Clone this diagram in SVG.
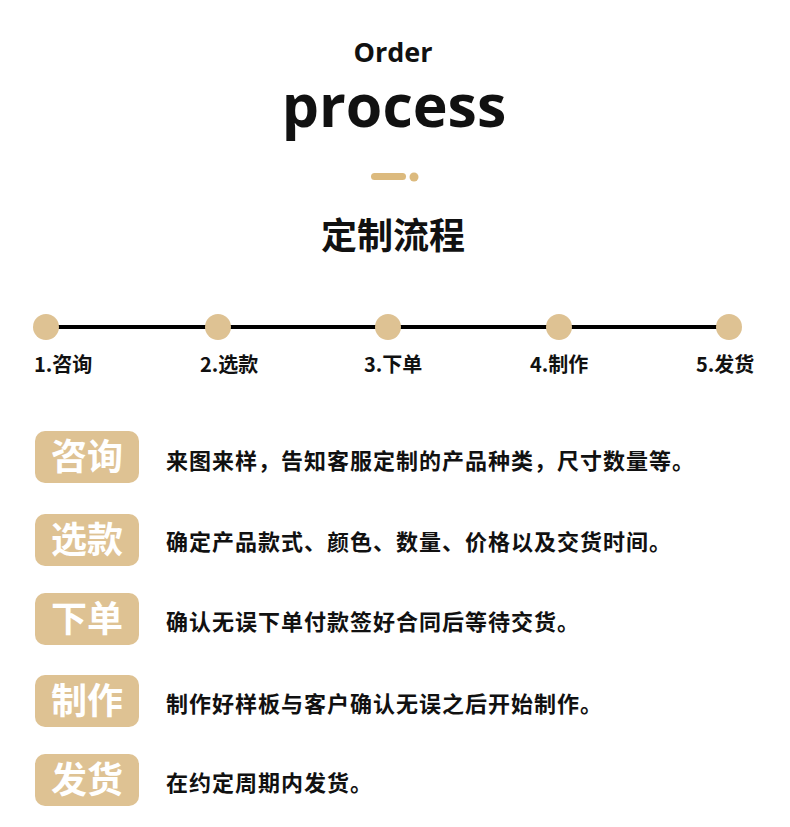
<svg xmlns="http://www.w3.org/2000/svg" width="790" height="827" viewBox="0 0 790 827">
<style>
.en{font-family:"Open Sans","Noto Sans",sans-serif;font-weight:700;fill:#111;text-anchor:middle}
.cn{font-family:"Noto Sans CJK SC","Noto Sans",sans-serif;font-weight:700;fill:#111}
.dot{fill:#DEC293}
.tag{fill:#DEC293}
.tagt{font-family:"Noto Sans CJK SC",sans-serif;font-weight:700;fill:#fff;font-size:36px;text-anchor:middle}
.lbl{font-family:"Noto Sans CJK SC","Noto Sans",sans-serif;font-weight:700;fill:#111;font-size:20px}
.desc{font-family:"Noto Sans CJK SC",sans-serif;font-weight:700;fill:#111;font-size:22px;letter-spacing:1px}
</style>
<rect width="790" height="827" fill="#fff"/>
<g id="header">
<text class="en" x="393" y="62" font-size="27">Order</text>
<text class="en" x="394" y="127" font-size="59">process</text>
<rect x="371" y="173" width="35" height="7" rx="3.5" fill="#DCBA7E"/>
<circle cx="414" cy="177" r="4.5" fill="#DCBA7E"/>
<text class="cn" x="393" y="249" font-size="36" text-anchor="middle">定制流程</text>
</g>
<g id="connectors">
<line x1="46" y1="327" x2="729" y2="327" stroke="#000" stroke-width="4"/>
</g>
<g id="step1"><circle class="dot" cx="46" cy="327" r="13"/><text class="lbl" x="34" y="372">1.咨询</text></g>
<g id="step2"><circle class="dot" cx="218" cy="327" r="13"/><text class="lbl" x="200" y="372">2.选款</text></g>
<g id="step3"><circle class="dot" cx="388" cy="327" r="13"/><text class="lbl" x="364" y="372">3.下单</text></g>
<g id="step4"><circle class="dot" cx="559" cy="327" r="13"/><text class="lbl" x="530" y="372">4.制作</text></g>
<g id="step5"><circle class="dot" cx="729" cy="327" r="13"/><text class="lbl" x="696" y="372">5.发货</text></g>
<g id="row1"><rect class="tag" x="35" y="431" width="104" height="52" rx="10"/><text class="tagt" x="87" y="470">咨询</text><text class="desc" x="166" y="469">来图来样，告知客服定制的产品种类，尺寸数量等。</text></g>
<g id="row2"><rect class="tag" x="35" y="514" width="104" height="52" rx="10"/><text class="tagt" x="87" y="553">选款</text><text class="desc" x="166" y="550">确定产品款式、颜色、数量、价格以及交货时间。</text></g>
<g id="row3"><rect class="tag" x="35" y="593" width="104" height="52" rx="10"/><text class="tagt" x="87" y="632">下单</text><text class="desc" x="166" y="630">确认无误下单付款签好合同后等待交货。</text></g>
<g id="row4"><rect class="tag" x="35" y="675" width="104" height="52" rx="10"/><text class="tagt" x="87" y="714">制作</text><text class="desc" x="166" y="712">制作好样板与客户确认无误之后开始制作。</text></g>
<g id="row5"><rect class="tag" x="35" y="754" width="104" height="52" rx="10"/><text class="tagt" x="87" y="793">发货</text><text class="desc" x="166" y="791">在约定周期内发货。</text></g>
</svg>
